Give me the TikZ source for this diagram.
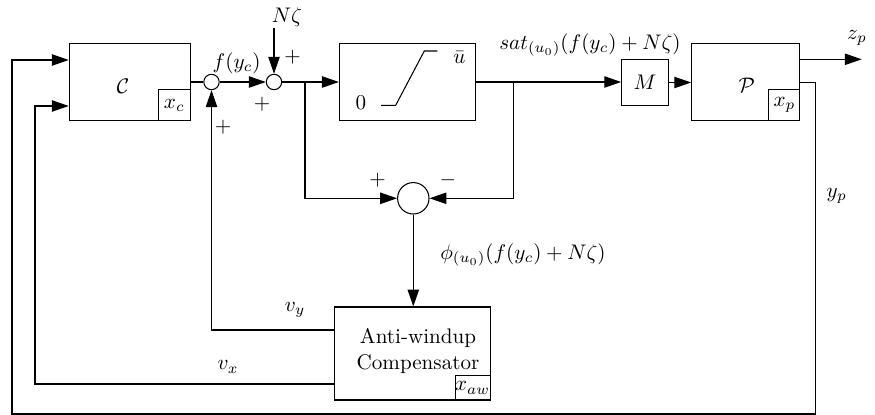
\documentclass[tikz,border=0pt]{standalone}
\usetikzlibrary{arrows.meta}
\begin{document}
\begin{tikzpicture}[x=0.474pt,y=-0.474pt,
  line width=0.5pt,
  blk/.style={draw, rectangle, inner sep=0pt},
  junc/.style={draw, circle, inner sep=0pt, minimum size=7.3pt},
  lbl/.style={inner sep=0pt},
  >={Triangle[length=8pt,width=5.4pt]}]
\useasboundingbox (0,0) rectangle (875,415);

% blocks
\node[blk, minimum width=57.4pt, minimum height=36.7pt] (C) at (129.8,82) {};
\node[blk, minimum width=15.2pt, minimum height=14.6pt, anchor=south east] (xc) at (C.south east) {$x_c$};
\node[lbl] (Ct) at (123,86) {$\mathcal{C}$};

\node[blk, minimum width=64.3pt, minimum height=36.7pt] (S) at (407.2,82) {};
\draw (381,105.3) -- (395.7,105.3) -- (424.3,51) -- (437.3,51);
\node[lbl] (zero) at (361,102.7) {$0$};
\node[lbl] (ubar) at (459.3,57.5) {$\bar{u}$};

\node[blk, minimum width=22.1pt, minimum height=22.1pt] (M) at (645,82.5) {$M$};

\node[blk, minimum width=51.3pt, minimum height=36.7pt] (P) at (745.8,82) {};
\node[blk, minimum width=14.7pt, minimum height=14.6pt, anchor=south east] (xp) at (P.south east) {$x_p$};
\node[lbl] (Pt) at (746.7,85) {$\mathcal{P}$};

\node[blk, minimum width=73.5pt, minimum height=44.1pt] (AW) at (412.5,353.5) {};
\node[blk, minimum width=16.3pt, minimum height=11.4pt, anchor=south east] (xaw) at (AW.south east) {$x_{aw}$};
\node[lbl, align=center] (AWt) at (418,351) {Anti-windup\\Compensator};

% junctions
\node[junc] (J1) at (211.5,82) {};
\node[junc] (J2) at (274,82) {};
\node[draw, circle, inner sep=0pt, minimum size=14.9pt] (SUM) at (413.3,198.3) {};

% coordinates
\coordinate (nz) at (274,28);
\coordinate (b1) at (305,82);
\coordinate (b1d) at (305,198.3);
\coordinate (b2) at (513.3,82);
\coordinate (b2d) at (513.3,198.3);
\coordinate (zp) at (861.7,59.3);
\coordinate (yp1) at (815.7,82.3);
\coordinate (yp2) at (815.7,414);
\coordinate (yp3) at (12,414);
\coordinate (cin1) at (12,60);
\coordinate (vy) at (211.5,330);
\coordinate (vx1) at (35,384);
\coordinate (cin2) at (35,106);

% connectors
\draw (C.east) -- (J1.west);
\draw[->] (J1.east) -- (J2.west);
\draw[->] (nz) -- (J2.north);
\draw[->] (J2.east) -- (S.west);
\draw[->] (S.east) -- (S.east -| M.west);
\draw[->] (M.east) -- (M.east -| P.west);
\draw[->] (zp -| P.east) -- (zp);
\draw[->] (yp1 -| P.east) -- (yp1) -- (yp2) -- (yp3) -- (cin1) -- (cin1 -| C.west);
\draw[->] (b1) -- (b1d) -- (SUM.west);
\draw[->] (b2) -- (b2d) -- (SUM.east);
\draw[->] (SUM.south) -- (SUM.south |- AW.north);
\draw[->] (vy -| AW.west) -- (vy) -- (J1.south);
\draw[->] (vx1 -| AW.west) -- (vx1) -- (cin2) -- (cin2 -| C.west);

% labels
\node[lbl] (lf) at (236.7,63) {$f(y_c)$};
\node[lbl] (lnz) at (287,17) {$N\zeta$};
\node[lbl] (p1) at (292.7,57) {$+$};
\node[lbl] (p2) at (262,104) {$+$};
\node[lbl] (p3) at (223,127) {$+$};
\node[lbl] (p4) at (377.7,180) {$+$};
\node[lbl] (m1) at (447.7,180) {$-$};
\node[lbl] (lsat) at (590,45) {$sat_{(u_0)}(f(y_c)+N\zeta)$};
\node[lbl] (lzp) at (857,38) {$z_p$};
\node[lbl] (lyp) at (836.7,196) {$y_p$};
\node[lbl] (lphi) at (523,255) {$\phi_{(u_0)}(f(y_c)+N\zeta)$};
\node[lbl] (lvy) at (295,310) {$v_y$};
\node[lbl] (lvx) at (228,367) {$v_x$};
\end{tikzpicture}
\end{document}
